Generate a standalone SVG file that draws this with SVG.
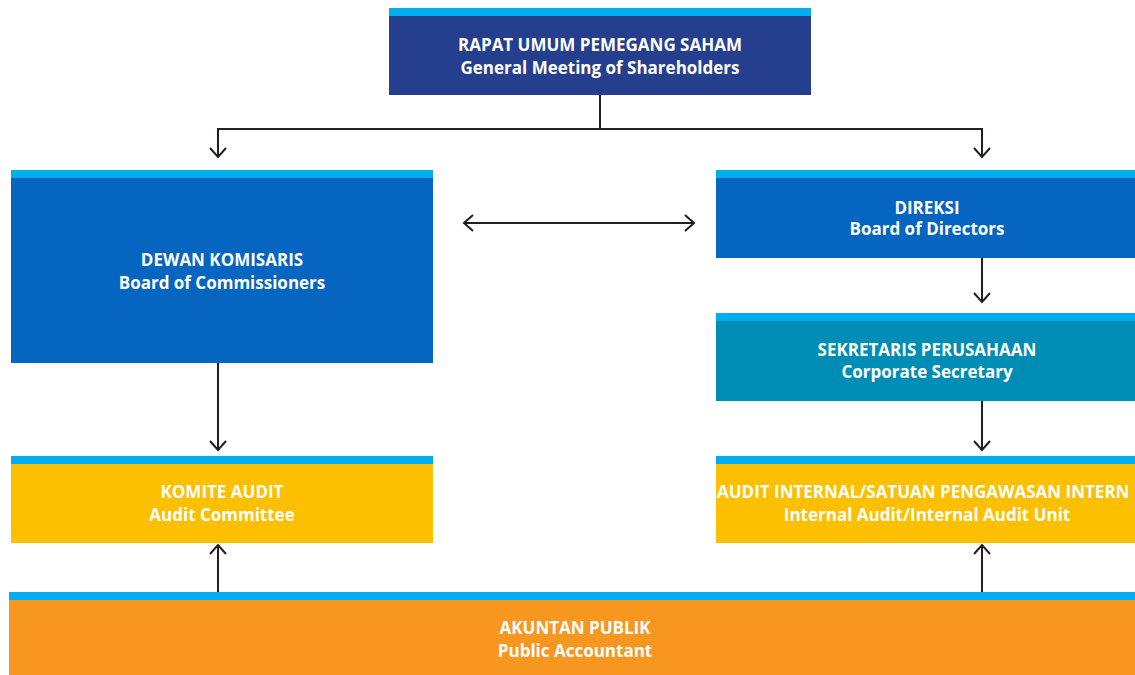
<svg xmlns="http://www.w3.org/2000/svg" width="1135" height="675" viewBox="0 0 1135 675">
<defs>
<marker id="ah" markerWidth="20" markerHeight="20" viewBox="-10 -10 20 20" refX="0" refY="0" orient="auto-start-reverse" markerUnits="userSpaceOnUse">
<polyline points="-9,-8 0,0 -9,8" fill="none" stroke="#231F20" stroke-width="2"/>
</marker>
<style>
.bar{fill:#00AEEF}
.t{font-family:"Open Sans","Liberation Sans",sans-serif;font-weight:bold;font-size:17px;fill:#fff;text-anchor:middle}
.c{fill:none;stroke:#231F20;stroke-width:2}
</style>
</defs>
<rect width="1135" height="675" fill="#fff"/>
<g id="rups">
<rect x="389" y="8" width="422" height="87" fill="#253F8E"/>
<rect class="bar" x="389" y="8" width="422" height="8"/>
<text class="t" x="600" y="51">RAPAT UMUM PEMEGANG SAHAM</text>
<text class="t" x="600" y="74">General Meeting of Shareholders</text>
</g>
<g id="dewan">
<rect x="11" y="170" width="422" height="193" fill="#0565C0"/>
<rect class="bar" x="11" y="170" width="422" height="8"/>
<text class="t" x="222" y="266">DEWAN KOMISARIS</text>
<text class="t" x="222" y="289">Board of Commissioners</text>
</g>
<g id="direksi">
<rect x="716" y="170" width="424" height="88" fill="#0565C0"/>
<rect class="bar" x="716" y="170" width="424" height="8"/>
<text class="t" x="927" y="214">DIREKSI</text>
<text class="t" x="927" y="235">Board of Directors</text>
</g>
<g id="sekretaris">
<rect x="716" y="313" width="424" height="88" fill="#008DB5"/>
<rect class="bar" x="716" y="313" width="424" height="8"/>
<text class="t" x="927" y="356">SEKRETARIS PERUSAHAAN</text>
<text class="t" x="927" y="378">Corporate Secretary</text>
</g>
<g id="komite">
<rect x="11" y="456" width="422" height="87" fill="#FDC000"/>
<rect class="bar" x="11" y="456" width="422" height="8"/>
<text class="t" x="222" y="498">KOMITE AUDIT</text>
<text class="t" x="222" y="521">Audit Committee</text>
</g>
<g id="internal">
<rect x="716" y="456" width="424" height="87" fill="#FDC000"/>
<rect class="bar" x="716" y="456" width="424" height="8"/>
<text class="t" x="717" y="498" style="text-anchor:start">AUDIT INTERNAL/SATUAN PENGAWASAN INTERN</text>
<text class="t" x="927" y="521">Internal Audit/Internal Audit Unit</text>
</g>
<g id="akuntan">
<rect x="9" y="592" width="1131" height="83" fill="#F7971F"/>
<rect class="bar" x="9" y="592" width="1131" height="8"/>
<text class="t" x="575" y="634">AKUNTAN PUBLIK</text>
<text class="t" x="575" y="657">Public Accountant</text>
</g>
<g id="connectors">
<polyline class="c" points="600,95 600,129"/>
<polyline class="c" points="218,157 218,129 982,129 982,157" marker-start="url(#ah)" marker-end="url(#ah)"/>
<line class="c" x1="464" y1="223" x2="694" y2="223" marker-start="url(#ah)" marker-end="url(#ah)"/>
<line class="c" x1="982" y1="258" x2="982" y2="302" marker-end="url(#ah)"/>
<line class="c" x1="982" y1="401" x2="982" y2="450" marker-end="url(#ah)"/>
<line class="c" x1="218" y1="363" x2="218" y2="450" marker-end="url(#ah)"/>
<line class="c" x1="218" y1="592" x2="218" y2="545" marker-end="url(#ah)"/>
<line class="c" x1="982" y1="592" x2="982" y2="545" marker-end="url(#ah)"/>
</g>
</svg>
